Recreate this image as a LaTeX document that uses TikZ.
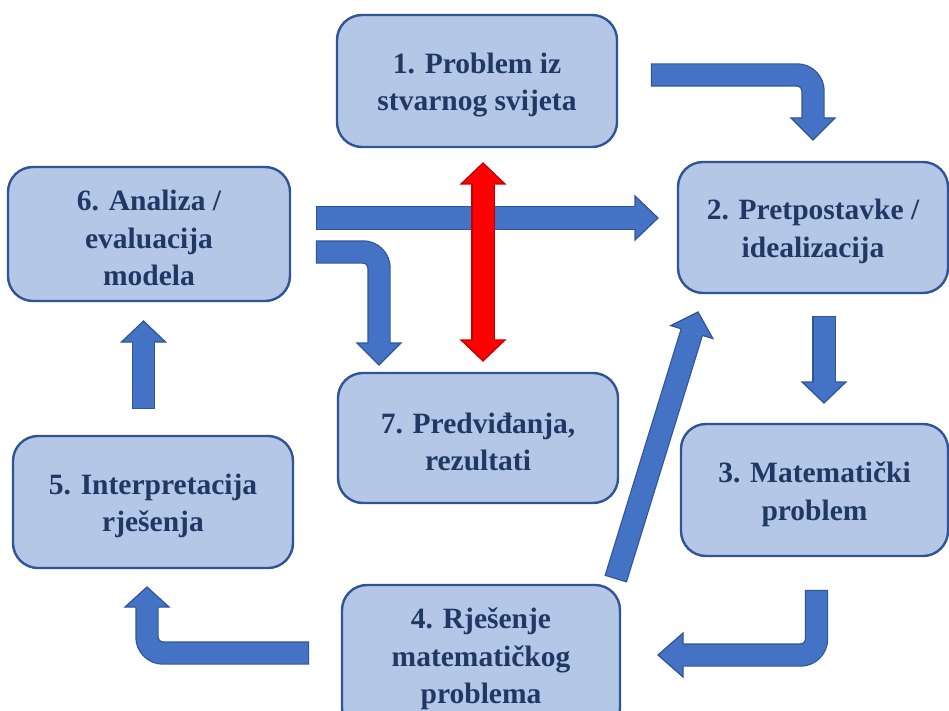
\documentclass[tikz,border=0pt]{standalone}
\usepackage{fontspec}
\setmainfont{Liberation Serif}
\usetikzlibrary{calc}
\definecolor{boxfill}{HTML}{B4C7E7}
\definecolor{boxedge}{HTML}{2F5597}
\definecolor{arrowblue}{HTML}{4472C4}
\definecolor{arrowedge}{HTML}{2F5597}
\definecolor{textnavy}{HTML}{1F3864}
\definecolor{redfill}{HTML}{FF0000}
\definecolor{rededge}{HTML}{C00000}
% arrow head: #1 fill, #2 edge, #3 head base coordinate, #4 tip coordinate
\newcommand\myhead[4]{%
  \fill[#1] ($(#3)!11.7pt!90:(#4)$) -- ($(#3)!22pt!90:(#4)$) -- (#4) -- ($(#3)!22pt!-90:(#4)$) -- ($(#3)!11.7pt!-90:(#4)$) -- cycle;
  \draw[#2, line width=1.2pt, line join=miter] ($(#3)!11.1pt!90:(#4)$) -- ($(#3)!22pt!90:(#4)$) -- (#4) -- ($(#3)!22pt!-90:(#4)$) -- ($(#3)!11.1pt!-90:(#4)$);
}
% block arrow: #1 fill, #2 edge, #3 shaft path up to (but without) head base, #4 head base, #5 tip
\newcommand\myblockarrow[5]{%
  \draw[#2, line width=23.4pt, rounded corners=16pt, shorten <=-1.2pt] #3 -- (#4);
  \draw[#1, line width=21pt, rounded corners=16pt] #3 -- (#4);
  \myhead{#1}{#2}{#4}{#5}
}
\begin{document}
\begin{tikzpicture}[x=1pt,y=-1pt,
  box/.style={draw=boxedge, line width=2.4pt, fill=boxfill, rounded corners=25pt,
    minimum height=132pt, inner sep=0pt},
  lbl/.style={align=center, font=\fontsize{29.5}{37.5}\selectfont\bfseries,
    text=textnavy, inner sep=0pt}]
\useasboundingbox (0,0) rectangle (949,711);
\fill[white] (0,0) rectangle (949,711);
\clip (0,0) rectangle (949,711);

% boxes
\node[box, minimum width=280pt] (b1) at (477,81) {};
\node[box, minimum width=270pt, minimum height=131pt] (b2) at (813,227.5) {};
\node[box, minimum width=267pt] (b3) at (814.5,490) {};
\node[box, minimum width=278pt, minimum height=148pt] (b4) at (481,659) {};
\node[box, minimum width=280pt] (b5) at (153,502) {};
\node[box, minimum width=282pt, minimum height=134pt] (b6) at (149,234) {};
\node[box, minimum width=280pt, minimum height=130pt] (b7) at (478,438) {};

% labels
\node[lbl] (t1) at ([yshift=-4pt]b1.center) {1. Problem iz\\stvarnog svijeta};
\node[lbl] (t2) at ([yshift=-4pt]b2.center) {2. Pretpostavke /\\idealizacija};
\node[lbl] (t3) at ([yshift=-4pt]b3.center) {3. Matematički\\problem};
\node[lbl] (t4) at (b4.center) {4. Rješenje\\matematičkog\\problema};
\node[lbl] (t5) at ([yshift=-4pt]b5.center) {5. Interpretacija\\rješenja};
\node[lbl] (t6) at ([yshift=-4pt]b6.center) {6. Analiza /\\evaluacija\\modela};
\node[lbl] (t7) at ([yshift=-4pt]b7.center) {7. Predviđanja,\\rezultati};

% arrow coordinates
\coordinate (a0) at (652,75);  \coordinate (a1) at (813,75);
\coordinate (aH) at (813,118); \coordinate (aT) at (813,140);
\coordinate (bb0) at (317,218); \coordinate (bH) at (635,218); \coordinate (bT) at (658,218);
\coordinate (c0) at (317,252); \coordinate (c1) at (379,252);
\coordinate (cH) at (379,343); \coordinate (cT) at (379,365);
\coordinate (dT1) at (483,163); \coordinate (dH1) at (483,184);
\coordinate (dH2) at (483,340); \coordinate (dT2) at (483,361);
\coordinate (e0) at (824,317); \coordinate (eH) at (824,382); \coordinate (eT) at (824,403);
\coordinate (f0) at (616,578); \coordinate (fT) at (698,312);
\coordinate (fH) at ($(fT)!21pt!(f0)$);
\coordinate (g0) at (816.5,591); \coordinate (g1) at (816.5,655);
\coordinate (gH) at (683,655); \coordinate (gT) at (658,655);
\coordinate (h0) at (308,653); \coordinate (h1) at (147,653);
\coordinate (hH) at (147,607); \coordinate (hT) at (147,587);
\coordinate (i0) at (143.5,408); \coordinate (iH) at (143.5,342); \coordinate (iT) at (143.5,321);

% blue block arrows
\myblockarrow{arrowblue}{arrowedge}{(a0) -- (a1)}{aH}{aT}
\myblockarrow{arrowblue}{arrowedge}{(bb0)}{bH}{bT}
\myblockarrow{arrowblue}{arrowedge}{(c0) -- (c1)}{cH}{cT}
\myblockarrow{arrowblue}{arrowedge}{(e0)}{eH}{eT}
\myblockarrow{arrowblue}{arrowedge}{(f0)}{fH}{fT}
\myblockarrow{arrowblue}{arrowedge}{(g0) -- (g1)}{gH}{gT}
\myblockarrow{arrowblue}{arrowedge}{(h0) -- (h1)}{hH}{hT}
\myblockarrow{arrowblue}{arrowedge}{(i0)}{iH}{iT}

% red double arrow
\draw[rededge, line width=23.4pt] (dH1) -- (dH2);
\draw[redfill, line width=21pt] (dH1) -- (dH2);
\myhead{redfill}{rededge}{dH1}{dT1}
\myhead{redfill}{rededge}{dH2}{dT2}
\end{tikzpicture}
\end{document}
